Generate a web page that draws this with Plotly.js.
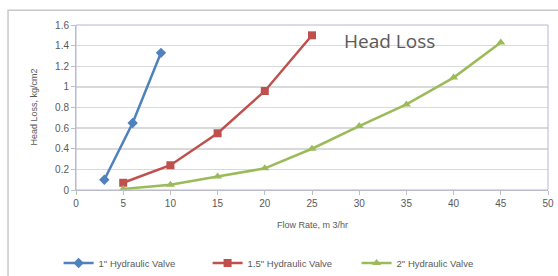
<!DOCTYPE html>
<html>
<head>
<meta charset="utf-8">
<script src="https://cdn.plot.ly/plotly-3.0.1.min.js"></script>
<style>html,body{margin:0;padding:0;background:#fff;}#chart{width:558px;height:276px;}</style>
</head>
<body>
<div id="chart"></div>
<script>
const seriesNames = ['1" Hydraulic Valve', '1.5" Hydraulic Valve', '2" Hydraulic Valve'];
const flow1 = [3, 6, 9];
const loss1 = [0.10, 0.65, 1.33];
const flow15 = [5, 10, 15, 20, 25];
const loss15 = [0.07, 0.24, 0.55, 0.96, 1.50];
const flow2 = [5, 10, 15, 20, 25, 30, 35, 40, 45];
const loss2 = [0.01, 0.05, 0.13, 0.21, 0.40, 0.62, 0.83, 1.09, 1.43];
const xTicks = [0, 5, 10, 15, 20, 25, 30, 35, 40, 45, 50];
const yTicks = [0, 0.2, 0.4, 0.6, 0.8, 1, 1.2, 1.4, 1.6];

const traces = [
  {x: flow1, y: loss1, name: seriesNames[0], mode: 'lines+markers',
   line: {color: '#4F81BD', width: 2.5}, marker: {symbol: 'diamond', size: 8, color: '#4F81BD'}},
  {x: flow15, y: loss15, name: seriesNames[1], mode: 'lines+markers',
   line: {color: '#C0504D', width: 2.5}, marker: {symbol: 'square', size: 8, color: '#C0504D'}},
  {x: flow2, y: loss2, name: seriesNames[2], mode: 'lines+markers',
   line: {color: '#9BBB59', width: 2.5}, marker: {symbol: 'triangle-up', size: 8, color: '#9BBB59'}}
];

const axisFont = {size: 9, color: '#595959'};
const layout = {
  width: 558, height: 276,
  margin: {l: 76, r: 10, t: 25, b: 86},
  paper_bgcolor: '#fff', plot_bgcolor: '#fff',
  font: {family: 'Liberation Sans, Arial, sans-serif', color: '#595959'},
  showlegend: true,
  legend: {orientation: 'h', xref: 'container', yref: 'container', x: 0.105, xanchor: 'left',
           y: 0.047, yanchor: 'middle', font: {size: 9.5, color: '#595959'}, tracegroupgap: 0,
           entrywidth: 104, entrywidthmode: 'pixels'},
  xaxis: {range: [0, 50], tickvals: xTicks, ticks: 'outside', ticklen: 4, tickcolor: '#BFBFBF',
          showline: true, linecolor: '#BFBFBF', showgrid: false, zeroline: false, automargin: false,
          tickfont: {size: 10, color: '#595959'}},
  yaxis: {range: [0, 1.6], tickvals: yTicks, ticks: 'outside', ticklen: 4, tickcolor: '#BFBFBF',
          showline: true, linecolor: '#BFBFBF', gridcolor: '#D9D9D9', gridwidth: 1.5, zeroline: false,
          automargin: false, tickfont: {size: 10, color: '#595959'}},
  annotations: [
    {xref: 'paper', yref: 'paper', x: 0.665, y: 0.905, xanchor: 'center', yanchor: 'middle',
     text: 'Head Loss', showarrow: false,
     font: {size: 19, color: '#595959', family: 'Open Sans, Liberation Sans, sans-serif'}},
    {xref: 'paper', yref: 'paper', x: 0.5, y: -0.212, xanchor: 'center', yanchor: 'middle',
     text: 'Flow Rate, m 3/hr', showarrow: false, font: axisFont},
    {xref: 'paper', yref: 'paper', x: -0.091, y: 0.5, xanchor: 'center', yanchor: 'middle',
     text: 'Head Loss, kg/cm2', textangle: -90, showarrow: false, font: axisFont}
  ],
  shapes: [
    {type: 'rect', xref: 'paper', yref: 'paper', x0: 0, x1: 1, y0: 0, y1: 1,
     line: {color: '#B4B8D8', width: 1}},
    {type: 'rect', xref: 'paper', yref: 'paper', x0: -0.144, x1: 1.1, y0: -0.6, y1: 1.09,
     line: {color: '#C8C8C8', width: 1.5}}
  ]
};

Plotly.newPlot('chart', traces, layout, {displayModeBar: false, staticPlot: true});
</script>
</body>
</html>
